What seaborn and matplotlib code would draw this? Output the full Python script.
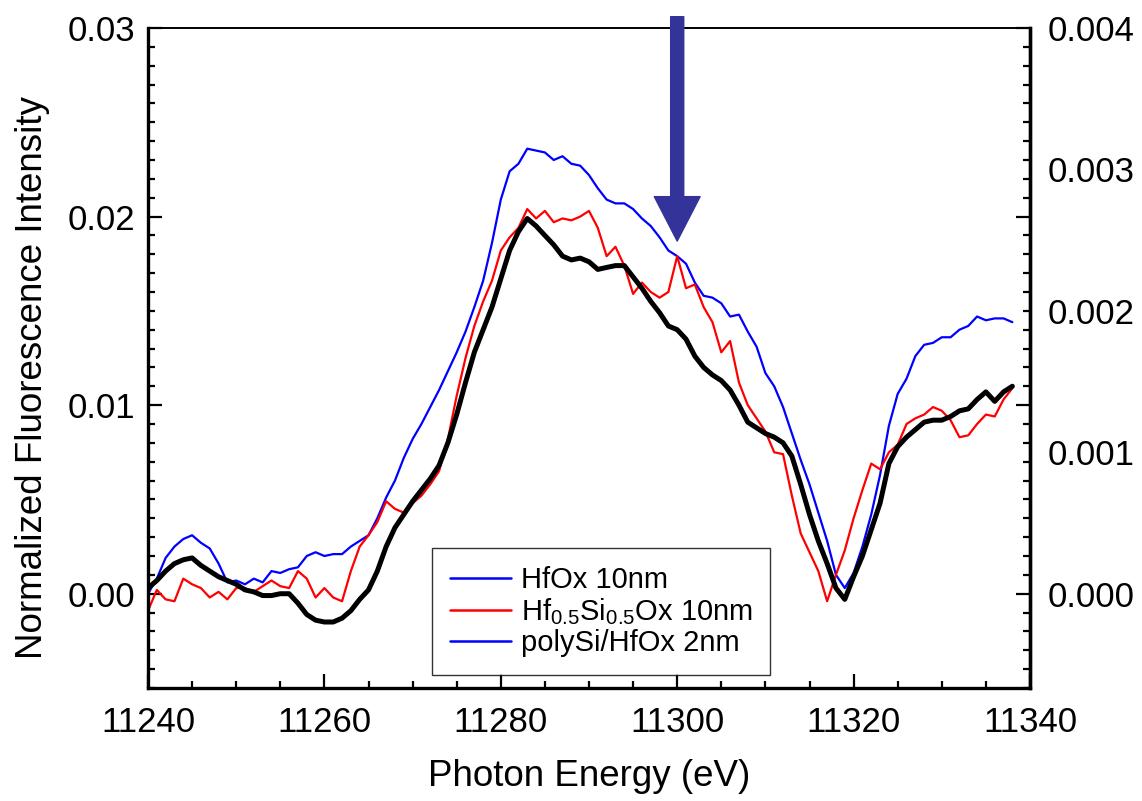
import numpy as np
import pandas as pd
import seaborn as sns
import matplotlib
matplotlib.use("Agg")
import matplotlib.pyplot as plt
from matplotlib.lines import Line2D
from matplotlib.ticker import MultipleLocator, FormatStrFormatter

energy = list(range(11240, 11339))

hfox_10nm = [
    0.0000, 0.0008, 0.0019, 0.0025, 0.0029, 0.0031, 0.0027, 0.0024, 0.0016, 0.0006,
    0.0007, 0.0005, 0.0008, 0.0006, 0.0012, 0.0011, 0.0013, 0.0014, 0.0020, 0.0022,
    0.0020, 0.0021, 0.0021, 0.0025, 0.0028, 0.0031, 0.0040, 0.0051, 0.0060, 0.0072,
    0.0082, 0.0090, 0.0099, 0.0108, 0.0118, 0.0128, 0.0139, 0.0152, 0.0166, 0.0186,
    0.0209, 0.0224, 0.0228, 0.0236, 0.0235, 0.0234, 0.0230, 0.0232, 0.0228, 0.0227,
    0.0222, 0.0215, 0.0209, 0.0207, 0.0207, 0.0204, 0.0199, 0.0195, 0.0189, 0.0182,
    0.0179, 0.0175, 0.0165, 0.0158, 0.0157, 0.0154, 0.0147, 0.0148, 0.0139, 0.0131,
    0.0117, 0.0110, 0.0099, 0.0085, 0.0071, 0.0058, 0.0043, 0.0028, 0.0010, 0.0003,
    0.0011, 0.0025, 0.0042, 0.0063, 0.0089, 0.0106, 0.0114, 0.0126, 0.0132, 0.0133,
    0.0136, 0.0136, 0.0140, 0.0142, 0.0147, 0.0145, 0.0146, 0.0146, 0.0144,
]

hfsiox_10nm = [
    -0.0009, 0.0002, -0.0003, -0.0004, 0.0008, 0.0005, 0.0003, -0.0002, 0.0001, -0.0003,
    0.0003, 0.0003, 0.0001, 0.0004, 0.0007, 0.0004, 0.0003, 0.0012, 0.0008, -0.0002,
    0.0003, -0.0002, -0.0004, 0.0012, 0.0025, 0.0031, 0.0038, 0.0049, 0.0045, 0.0043,
    0.0048, 0.0052, 0.0058, 0.0065, 0.0082, 0.0105, 0.0125, 0.0142, 0.0155, 0.0166,
    0.0182, 0.0189, 0.0194, 0.0204, 0.0199, 0.0203, 0.0197, 0.0199, 0.0198, 0.0200,
    0.0203, 0.0194, 0.0179, 0.0184, 0.0174, 0.0159, 0.0165, 0.0160, 0.0157, 0.0160,
    0.0179, 0.0162, 0.0164, 0.0152, 0.0144, 0.0128, 0.0134, 0.0112, 0.0100, 0.0093,
    0.0086, 0.0075, 0.0074, 0.0052, 0.0032, 0.0022, 0.0012, -0.0004, 0.0010, 0.0023,
    0.0040, 0.0055, 0.0069, 0.0066, 0.0075, 0.0079, 0.0090, 0.0093, 0.0095, 0.0099,
    0.0097, 0.0092, 0.0083, 0.0084, 0.0090, 0.0095, 0.0094, 0.0103, 0.0109,
]

# right-axis values
polysi_hfox_2nm = [
    0.000040, 0.000093, 0.000160, 0.000213, 0.000240, 0.000253, 0.000200, 0.000160, 0.000120, 0.000093,
    0.000067, 0.000027, 0.000013, -0.000013, -0.000013, 0.000000, 0.000000, -0.000067, -0.000147, -0.000187,
    -0.000200, -0.000200, -0.000173, -0.000120, -0.000040, 0.000027, 0.000160, 0.000333, 0.000467, 0.000560,
    0.000653, 0.000733, 0.000813, 0.000907, 0.001067, 0.001267, 0.001493, 0.001707, 0.001867, 0.002027,
    0.002227, 0.002427, 0.002560, 0.002653, 0.002600, 0.002533, 0.002467, 0.002387, 0.002360, 0.002373,
    0.002347, 0.002293, 0.002307, 0.002320, 0.002320, 0.002240, 0.002160, 0.002067, 0.001987, 0.001893,
    0.001867, 0.001800, 0.001680, 0.001600, 0.001547, 0.001507, 0.001440, 0.001333, 0.001213, 0.001173,
    0.001133, 0.001107, 0.001067, 0.000973, 0.000773, 0.000560, 0.000373, 0.000213, 0.000040, -0.000040,
    0.000120, 0.000267, 0.000453, 0.000640, 0.000920, 0.001040, 0.001107, 0.001160, 0.001213, 0.001227,
    0.001227, 0.001253, 0.001293, 0.001307, 0.001373, 0.001427, 0.001360, 0.001427, 0.001467,
]

legend_labels = ["HfOx 10nm", r"Hf$\mathregular{_{0.5}}$Si$\mathregular{_{0.5}}$Ox 10nm", "polySi/HfOx 2nm"]
left_ticks = [0.00, 0.01, 0.02, 0.03]
right_ticks = [0.000, 0.001, 0.002, 0.003, 0.004]

sns.set_style("ticks")
plt.rcParams["font.family"] = ["Liberation Sans", "DejaVu Sans"]
plt.rcParams["mathtext.fontset"] = "custom"
plt.rcParams["mathtext.rm"] = "Liberation Sans"
plt.rcParams["text.color"] = "black"
plt.rcParams["axes.labelcolor"] = "black"
plt.rcParams["xtick.color"] = "black"
plt.rcParams["ytick.color"] = "black"

df = pd.DataFrame({"E": energy, "hfox": hfox_10nm, "hfsiox": hfsiox_10nm, "poly": polysi_hfox_2nm})

fig = plt.figure(figsize=(11.42, 8.01), dpi=100)
ax = fig.add_axes([148 / 1142, 1 - 688 / 801, 882 / 1142, 660 / 801])
ax2 = ax.twinx()

sns.lineplot(data=df, x="E", y="hfox", ax=ax, color="#0000ff", linewidth=1.6)
sns.lineplot(data=df, x="E", y="hfsiox", ax=ax, color="#ff0000", linewidth=1.6)
sns.lineplot(data=df, x="E", y="poly", ax=ax2, color="black", linewidth=3.6)

ax.set_xlim(11240, 11340)
ax.set_ylim(-0.005, 0.03)
ax2.set_ylim(-0.005 / 7.5, 0.03 / 7.5)

ax.xaxis.set_major_locator(MultipleLocator(20))
ax.xaxis.set_minor_locator(MultipleLocator(5))
ax.set_yticks(left_ticks)
ax.yaxis.set_major_formatter(FormatStrFormatter("%.2f"))
ax.yaxis.set_minor_locator(MultipleLocator(0.001))
ax2.set_yticks(right_ticks)
ax2.yaxis.set_major_formatter(FormatStrFormatter("%.3f"))

ax.tick_params(axis="both", which="major", direction="in", length=10, width=1.6,
               labelsize=25, pad=9, right=True, top=False, colors="black")
ax.tick_params(axis="x", which="major", pad=13)
ax.tick_params(axis="both", which="minor", direction="in", length=5, width=1.6,
               right=True, top=False, colors="black")
ax.tick_params(axis="y", which="both", labelright=False)
ax2.tick_params(axis="y", which="both", length=0, labelsize=25, pad=13, colors="black")

for name, sp in ax.spines.items():
    sp.set_linewidth(2.4 if name != "top" else 1.4)
    sp.set_color("black")
for name, sp in ax2.spines.items():
    sp.set_visible(name == "right")
ax2.spines["right"].set_linewidth(2.4)
ax2.spines["right"].set_color("black")

ax.set_xlabel("Photon Energy (eV)", fontsize=26.5, labelpad=14)
ax.set_ylabel("Normalized Fluorescence Intensity", fontsize=26.5, labelpad=8)
ax.yaxis.set_label_coords(-0.111, 0.47)
ax2.set_ylabel("")

ax.annotate("", xy=(11300, 0.0187), xytext=(11300, 0.0306),
            xycoords="data", annotation_clip=False,
            arrowprops=dict(arrowstyle="simple,head_length=3.2,head_width=3.3,tail_width=0.94",
                            mutation_scale=10, color="#333399", shrinkA=0, shrinkB=0))

handles = [Line2D([], [], color="#0000ff", linewidth=1.8),
           Line2D([], [], color="#ff0000", linewidth=1.8),
           Line2D([], [], color="#0000ff", linewidth=1.8)]
leg = ax2.legend(handles, legend_labels, loc="lower left",
                 bbox_to_anchor=(0.322, 0.02, 0.383, 0.185), mode="expand",
                 borderaxespad=0, fontsize=21, frameon=True, fancybox=False,
                 edgecolor="black", handlelength=2.1, handletextpad=0.35,
                 labelspacing=0.08, borderpad=0.6)
leg.get_frame().set_linewidth(1.0)

fig.savefig("out.png", dpi=100)
